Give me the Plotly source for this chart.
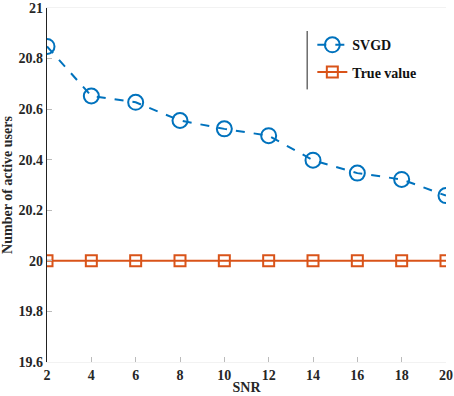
import plotly.graph_objects as go

snr = [2, 4, 6, 8, 10, 12, 14, 16, 18, 20]
svgd = [20.848, 20.652, 20.627, 20.555, 20.522, 20.495, 20.398, 20.347, 20.322, 20.258]
true_value = [20, 20, 20, 20, 20, 20, 20, 20, 20, 20]
x_ticks = [2, 4, 6, 8, 10, 12, 14, 16, 18, 20]
y_ticks = [19.6, 19.8, 20, 20.2, 20.4, 20.6, 20.8, 21]
y_tick_labels = ["19.6", "19.8", "20", "20.2", "20.4", "20.6", "20.8", "21"]

FAM = "Liberation Serif, Times New Roman, serif"
font = dict(family=FAM, size=14, color="#262626")

fig = go.Figure()
fig.add_trace(go.Scatter(
    x=snr, y=svgd, name="<b>SVGD</b>", mode="lines+markers", legendgroup="a",
    line=dict(color="#0072BD", width=2, dash="dash"),
    marker=dict(symbol="circle-open", size=15, color="#0072BD", line=dict(width=2)),
))
fig.add_trace(go.Scatter(
    x=snr, y=true_value, name="<b>True value</b>", mode="lines+markers", legendgroup="b",
    line=dict(color="#D95319", width=2),
    marker=dict(symbol="square-open", size=11, color="#D95319", line=dict(width=2)),
))

fig.update_layout(
    width=454, height=396,
    margin=dict(l=47, r=8, t=8, b=34, autoexpand=False),
    paper_bgcolor="white", plot_bgcolor="white",
    font=font,
    showlegend=True,
    legend=dict(x=0.665, y=0.94, xanchor="left", yanchor="top",
                bgcolor="rgba(0,0,0,0)", font=dict(family=FAM, size=14, color="#111"),
                itemwidth=30, tracegroupgap=6),
    shapes=[dict(type="line", xref="paper", yref="paper",
                 x0=0.652, x1=0.652, y0=0.77, y1=0.935,
                 line=dict(color="#222", width=1))],
)
fig.update_xaxes(
    range=[2, 20], tickvals=x_ticks, ticktext=[f"<b>{v}</b>" for v in x_ticks],
    showgrid=False, zeroline=False, showline=True, linecolor="#f2f2f2", linewidth=1,
    mirror=True, ticks="inside", ticklen=5, tickcolor="#bbbbbb",
    title=dict(text="<b>SNR</b>", standoff=0, font=dict(family=FAM, size=14, color="#262626")),
    tickfont=dict(family=FAM, size=14, color="#262626"),
)
fig.update_yaxes(
    range=[19.6, 21], tickvals=y_ticks, ticktext=[f"<b>{t}</b>" for t in y_tick_labels],
    showgrid=False, zeroline=False, showline=True, linecolor="#222", linewidth=1.2,
    ticks="inside", ticklen=5, tickcolor="#bbbbbb",
    title=dict(text="<b>Number of active users</b>", standoff=4, font=dict(family=FAM, size=14, color="#262626")),
    tickfont=dict(family=FAM, size=14, color="#262626"),
)

fig.write_html("out.html", config={"displayModeBar": False},
               post_script="document.body.style.margin='0';")
